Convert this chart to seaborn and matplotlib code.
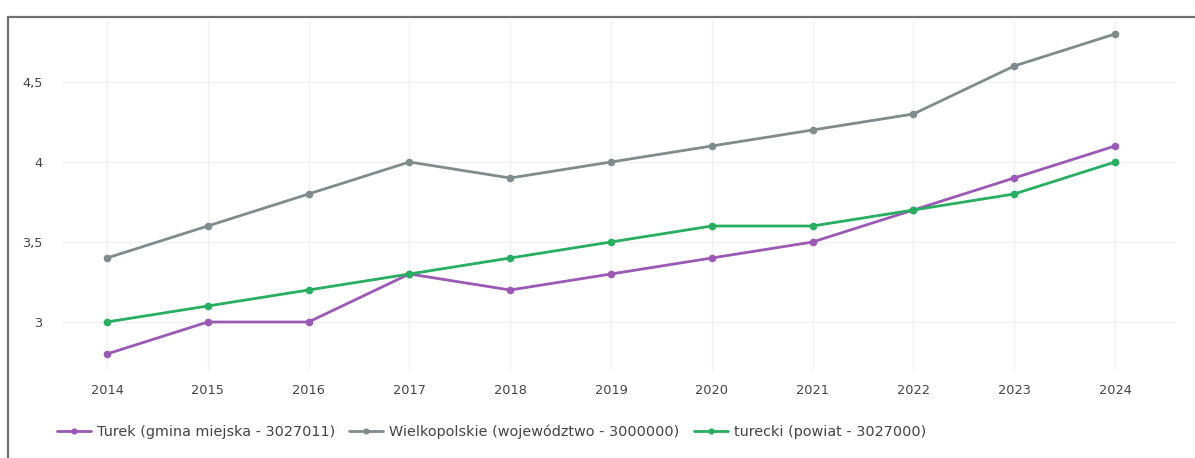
import matplotlib
matplotlib.use("Agg")
import matplotlib.pyplot as plt
import seaborn as sns
import pandas as pd
from matplotlib.lines import Line2D
from matplotlib.ticker import FuncFormatter

years = [2014, 2015, 2016, 2017, 2018, 2019, 2020, 2021, 2022, 2023, 2024]
turek = [2.8, 3.0, 3.0, 3.3, 3.2, 3.3, 3.4, 3.5, 3.7, 3.9, 4.1]
wielkopolskie = [3.4, 3.6, 3.8, 4.0, 3.9, 4.0, 4.1, 4.2, 4.3, 4.6, 4.8]
turecki = [3.0, 3.1, 3.2, 3.3, 3.4, 3.5, 3.6, 3.6, 3.7, 3.8, 4.0]
series_names = ["Turek (gmina miejska - 3027011)",
                "Wielkopolskie (województwo - 3000000)",
                "turecki (powiat - 3027000)"]
colors = ["#9b59b6", "#7f8c8d", "#27ae60"]

frames = []
for name, vals in zip(series_names, [turek, wielkopolskie, turecki]):
    frames.append(pd.DataFrame({"rok": years, "wartosc": vals, "seria": name}))
df = pd.concat(frames, ignore_index=True)

sns.set_style("white")
plt.rcParams["font.family"] = ["DejaVu Sans"]

W, H = 1195, 458
fig = plt.figure(figsize=(W / 100, H / 100), dpi=100)
# axes in pixel coordinates: left 62, right 1176, top 20, bottom 370
ax = fig.add_axes([62 / W, 1 - 370 / H, (1176 - 62) / W, (370 - 20) / H])

sns.lineplot(data=df, x="rok", y="wartosc", hue="seria", palette=colors,
             marker="o", markersize=5.5, markeredgewidth=0, linewidth=2,
             ax=ax, legend=True)

ax.set_xlim(2013.554, 2024.605)
ax.set_ylim(2.7, 4.8875)
ax.set_xticks(years)
ax.set_yticks([3, 3.5, 4, 4.5])
ax.yaxis.set_major_formatter(FuncFormatter(lambda v, p: f"{v:g}".replace(".", ",")))
ax.grid(True, color="#f0f0f0", linewidth=1)
ax.set_axisbelow(True)
for s in ax.spines.values():
    s.set_visible(False)
ax.tick_params(axis="both", length=0, labelsize=9.3, labelcolor="#444444")
ax.tick_params(axis="x", pad=10)
ax.tick_params(axis="y", pad=14)
ax.set_xlabel("")
ax.set_ylabel("")

handles, labels = ax.get_legend_handles_labels()
for h in handles:
    h.set_markersize(4.5)
ax.get_legend().remove()
fig.legend(handles, labels, loc="center left", bbox_to_anchor=(44 / W, 1 - 432 / H),
           ncol=3, frameon=False, fontsize=10.4, handlelength=2.35, handletextpad=0.4,
           columnspacing=1.0, labelcolor="#444444")

# outer frame: top and left edges
top = 1 - 17 / H
left = 8 / W
fig.add_artist(Line2D([left, 1.0], [top, top], transform=fig.transFigure,
                      color="#707070", linewidth=1.6))
fig.add_artist(Line2D([left, left], [0.0, top], transform=fig.transFigure,
                      color="#707070", linewidth=1.6))

fig.savefig("out.png", dpi=100)
